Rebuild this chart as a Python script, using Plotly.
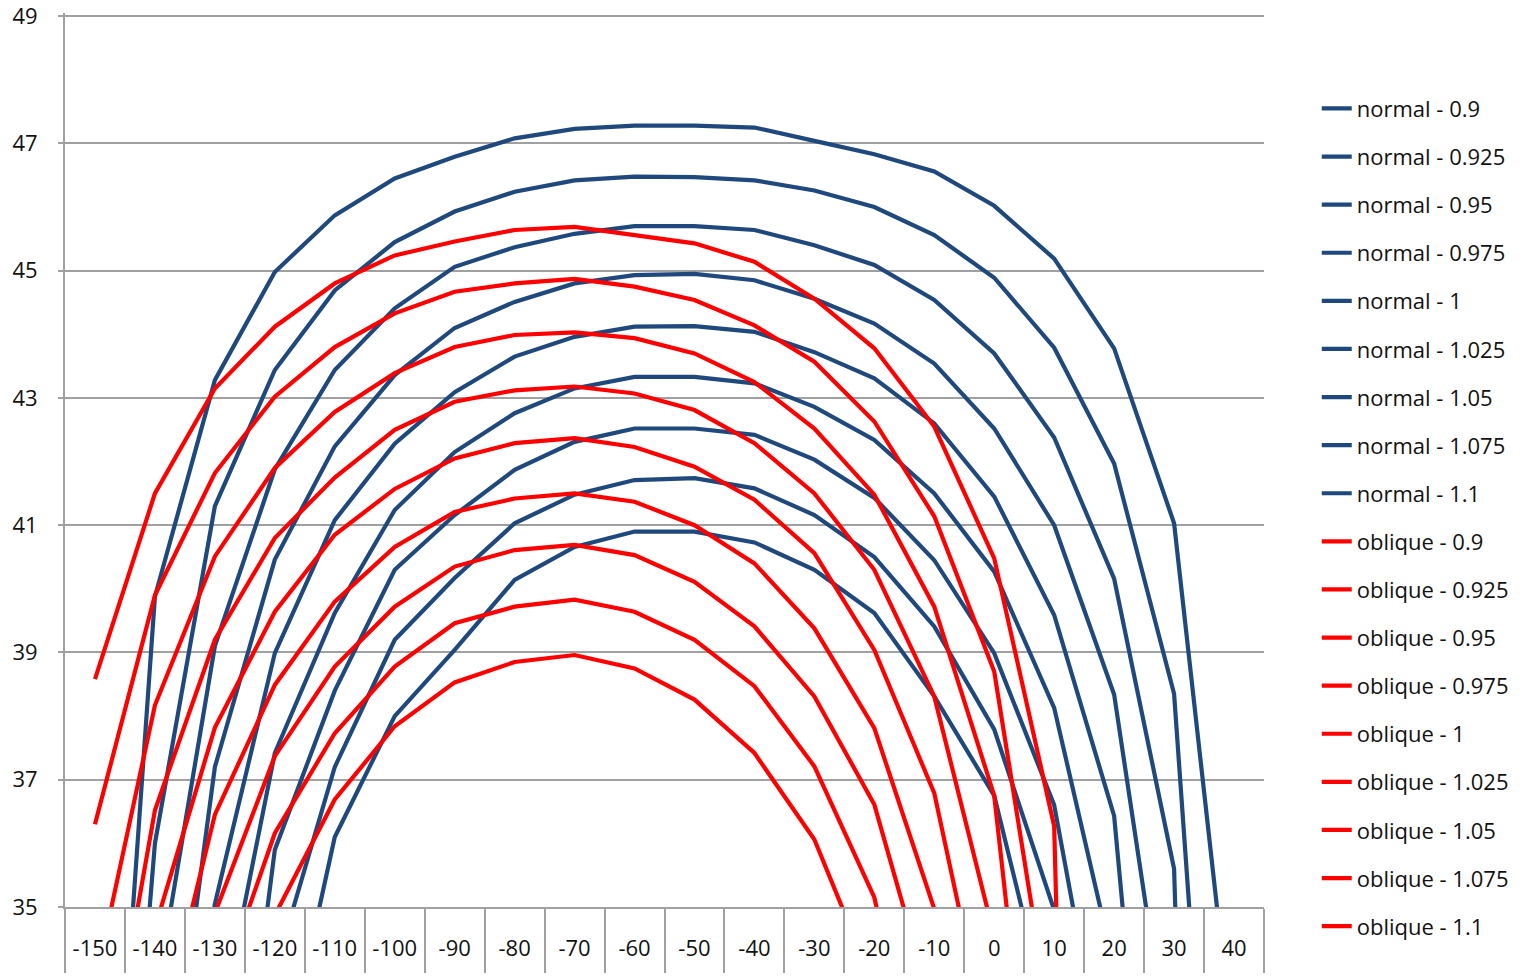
import plotly.graph_objects as go

# ---------------- data ----------------
categories = ["-150", "-140", "-130", "-120", "-110", "-100", "-90", "-80", "-70", "-60",
              "-50", "-40", "-30", "-20", "-10", "0", "10", "20", "30", "40"]

normal_0900 = [26.5, 39.88, 43.28, 44.98, 45.87, 46.45, 46.79, 47.08, 47.23, 47.28,
               47.28, 47.25, 47.04, 46.83, 46.56, 46.02, 45.19, 43.78, 41.03, 32.6]
normal_0925 = [24.5, 36.0, 41.3, 43.44, 44.69, 45.45, 45.93, 46.24, 46.42, 46.48,
               46.47, 46.42, 46.26, 46.0, 45.56, 44.89, 43.79, 41.97, 38.35, 25.1]
normal_0950 = [None, 33.5, 39.1, 41.88, 43.44, 44.41, 45.06, 45.37, 45.58, 45.7,
               45.7, 45.64, 45.4, 45.09, 44.54, 43.7, 42.38, 40.16, 35.6, 5.0]
normal_0975 = [None, 30.1, 37.2, 40.46, 42.24, 43.36, 44.1, 44.51, 44.8, 44.93,
               44.95, 44.85, 44.56, 44.17, 43.54, 42.52, 41.0, 38.34, 32.07, None]
normal_1000 = [None, 28.0, 35.05, 38.99, 41.08, 42.28, 43.09, 43.65, 43.96, 44.12,
               44.13, 44.04, 43.72, 43.31, 42.6, 41.45, 39.59, 36.43, 26.3, None]
normal_1025 = [None, None, 32.7, 37.42, 39.62, 41.24, 42.15, 42.76, 43.15, 43.33,
               43.33, 43.23, 42.86, 42.34, 41.5, 40.27, 38.13, 34.05, None, None]
normal_1050 = [None, None, 28.5, 35.9, 38.4, 40.3, 41.16, 41.87, 42.31, 42.52,
               42.52, 42.42, 42.03, 41.43, 40.45, 38.99, 36.6, 31.5, None, None]
normal_1075 = [None, None, None, 34.0, 37.2, 39.2, 40.17, 41.03, 41.48, 41.71,
               41.74, 41.58, 41.16, 40.5, 39.41, 37.79, 34.95, None, None, None]
normal_1100 = [None, None, None, 31.8, 36.1, 38.0, 39.04, 40.14, 40.66, 40.9,
               40.9, 40.73, 40.3, 39.62, 38.31, 36.75, 32.9, None, None, None]

oblique_0900 = [38.58, 41.5, 43.15, 44.12, 44.8, 45.24, 45.46, 45.64, 45.69, 45.56,
                45.43, 45.14, 44.56, 43.78, 42.55, 40.48, 36.27, 0.0, None, None]
oblique_0925 = [36.3, 39.9, 41.82, 43.02, 43.8, 44.33, 44.67, 44.8, 44.87, 44.75,
                44.54, 44.14, 43.57, 42.63, 41.14, 38.7, 32.8, None, None, None]
oblique_0950 = [33.8, 38.17, 40.51, 41.9, 42.78, 43.39, 43.8, 43.99, 44.03, 43.94,
                43.7, 43.25, 42.52, 41.48, 39.72, 36.75, 28.3, None, None, None]
oblique_0975 = [31.2, 36.52, 39.2, 40.8, 41.75, 42.5, 42.94, 43.12, 43.18, 43.07,
                42.81, 42.29, 41.5, 40.3, 38.31, 34.54, None, None, None, None]
oblique_1000 = [None, 34.67, 37.82, 39.64, 40.85, 41.57, 42.05, 42.29, 42.37, 42.23,
                41.92, 41.4, 40.56, 39.04, 36.79, 32.4, None, None, None, None]
oblique_1025 = [None, 32.6, 36.45, 38.49, 39.8, 40.66, 41.21, 41.42, 41.5, 41.37,
                41.0, 40.4, 39.38, 37.81, 34.97, None, None, None, None, None]
oblique_1050 = [None, None, 34.9, 37.37, 38.78, 39.72, 40.35, 40.61, 40.69, 40.53,
                40.11, 39.41, 38.31, 36.61, 33.3, None, None, None, None, None]
oblique_1075 = [None, None, 33.45, 36.16, 37.73, 38.78, 39.46, 39.72, 39.83, 39.64,
                39.2, 38.47, 37.21, 35.15, 31.0, None, None, None, None, None]
oblique_1100 = [None, None, None, 34.87, 36.69, 37.84, 38.53, 38.85, 38.96, 38.75,
                38.26, 37.42, 36.06, 33.76, None, None, None, None, None, None]

normal_series = [
    ("normal - 0.9", normal_0900), ("normal - 0.925", normal_0925),
    ("normal - 0.95", normal_0950), ("normal - 0.975", normal_0975),
    ("normal - 1", normal_1000), ("normal - 1.025", normal_1025),
    ("normal - 1.05", normal_1050), ("normal - 1.075", normal_1075),
    ("normal - 1.1", normal_1100),
]
oblique_series = [
    ("oblique - 0.9", oblique_0900), ("oblique - 0.925", oblique_0925),
    ("oblique - 0.95", oblique_0950), ("oblique - 0.975", oblique_0975),
    ("oblique - 1", oblique_1000), ("oblique - 1.025", oblique_1025),
    ("oblique - 1.05", oblique_1050), ("oblique - 1.075", oblique_1075),
    ("oblique - 1.1", oblique_1100),
]

y_ticks = [35, 37, 39, 41, 43, 45, 47, 49]

# ---------------- styling ----------------
BLUE = "#1F497D"
RED = "#FF0000"
GRID = "#A0A0A0"
FONT = "Open Sans"
TXT = "#111111"
LW = 4.2

fig = go.Figure()
for i, (name, vals) in enumerate(normal_series):
    fig.add_trace(go.Scatter(x=categories, y=vals, name=name, mode="lines",
                             line=dict(color=BLUE, width=LW),
                             legendgroup=f"n{i}", connectgaps=False))
for i, (name, vals) in enumerate(oblique_series):
    fig.add_trace(go.Scatter(x=categories, y=vals, name=name, mode="lines",
                             line=dict(color=RED, width=LW),
                             legendgroup=f"o{i}", connectgaps=False))

fig.update_layout(
    width=1537, height=980,
    margin=dict(l=65, r=273, t=12.5, b=72.5, autoexpand=False),
    paper_bgcolor="white", plot_bgcolor="white",
    font=dict(family=FONT, size=22, color=TXT),
    showlegend=True,
    legend=dict(x=1.044, xanchor="left", y=0.9165, yanchor="top",
                font=dict(family=FONT, size=22, color=TXT),
                tracegroupgap=16.5, bgcolor="rgba(0,0,0,0)",
                traceorder="grouped"),
)
fig.update_xaxes(type="category", categoryorder="array", categoryarray=categories,
                 range=[-0.5, len(categories) - 0.5],
                 showgrid=False, zeroline=False, automargin=False,
                 showline=True, linecolor=GRID, linewidth=2,
                 ticks="outside", tickson="boundaries", ticklen=64,
                 tickwidth=2, tickcolor=GRID,
                 ticklabelstandoff=21,
                 tickfont=dict(family=FONT, size=22, color=TXT))
fig.update_yaxes(range=[35, 49.05], tickmode="array", tickvals=y_ticks,
                 ticktext=[str(v) for v in y_ticks],
                 showgrid=True, gridcolor=GRID, gridwidth=2, zeroline=False,
                 automargin=False,
                 showline=True, linecolor=GRID, linewidth=2,
                 ticks="outside", ticklen=5, tickwidth=2, tickcolor=GRID,
                 ticklabelstandoff=16, ticklabeloverflow="allow",
                 tickfont=dict(family=FONT, size=22, color=TXT))

fig.write_html("out.html", include_plotlyjs=True, full_html=True,
               config={"displayModeBar": False},
               post_script="document.body.style.margin='0';document.body.style.overflow='hidden';")
